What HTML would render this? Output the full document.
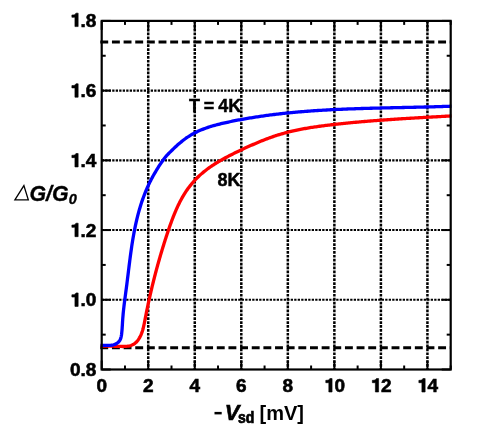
<!DOCTYPE html>
<html><head><meta charset="utf-8"><style>
html,body{margin:0;padding:0;background:#fff;}
svg{display:block;filter:blur(0.4px);}
text{font-family:"Liberation Sans",sans-serif;fill:#000;}
.tl{font-size:19px;font-weight:bold;stroke:#000;stroke-width:0.6px;}
.yl{font-size:21.3px;font-weight:bold;stroke:#000;stroke-width:0.35px;}
.an{font-size:18px;font-weight:bold;stroke:#000;stroke-width:0.45px;}
.xv{font-size:22px;font-weight:bold;font-style:italic;stroke:#000;stroke-width:0.6px;}
.xsd{font-size:14px;font-weight:bold;stroke:#000;stroke-width:0.65px;}
.xmv{font-size:20px;font-weight:bold;}
.hid{fill:none;stroke:none;}
.one{fill:#000;stroke:#000;stroke-width:0.0316;stroke-linejoin:miter;}
.bi{font-style:italic;font-weight:bold;}
.delta{font-weight:normal;font-style:italic;}
.sub{font-size:14.5px;font-style:italic;font-weight:bold;}
.sd{font-size:12px;font-weight:bold;}
.grid{stroke:#000;stroke-width:2.5;stroke-dasharray:2.7 1.2;fill:none;}
.gridh{stroke:#000;stroke-width:2.1;stroke-dasharray:2.3 1.2;fill:none;}
.dash{stroke:#000;stroke-width:3;stroke-dasharray:7.9 3.75;fill:none;}
.tick{stroke:#000;stroke-width:2;}
.frame{stroke:#000;stroke-width:2.2;fill:none;}
.blue{stroke:#0000ff;stroke-width:3.3;fill:none;stroke-linejoin:round;}
.red{stroke:#ff0000;stroke-width:3.3;fill:none;stroke-linejoin:round;}
</style></head><body>
<svg width="478" height="442" viewBox="0 0 478 442">
<line x1="148.23" y1="20.90" x2="148.23" y2="369.50" class="grid"/>
<line x1="194.77" y1="20.90" x2="194.77" y2="369.50" class="grid"/>
<line x1="241.30" y1="20.90" x2="241.30" y2="369.50" class="grid"/>
<line x1="287.83" y1="20.90" x2="287.83" y2="369.50" class="grid"/>
<line x1="334.37" y1="20.90" x2="334.37" y2="369.50" class="grid"/>
<line x1="380.90" y1="20.90" x2="380.90" y2="369.50" class="grid"/>
<line x1="427.43" y1="20.90" x2="427.43" y2="369.50" class="grid"/>
<line x1="101.70" y1="299.78" x2="450.70" y2="299.78" class="gridh"/>
<line x1="101.70" y1="230.06" x2="450.70" y2="230.06" class="gridh"/>
<line x1="101.70" y1="160.34" x2="450.70" y2="160.34" class="gridh"/>
<line x1="101.70" y1="90.62" x2="450.70" y2="90.62" class="gridh"/>
<line x1="100.3" y1="42.00" x2="450.70" y2="42.00" class="dash"/>
<line x1="100.3" y1="347.80" x2="450.70" y2="347.80" class="dash"/>
<line x1="101.70" y1="369.50" x2="101.70" y2="360.50" class="tick"/>
<line x1="101.70" y1="20.90" x2="101.70" y2="29.90" class="tick"/>
<line x1="124.97" y1="369.50" x2="124.97" y2="365.50" class="tick"/>
<line x1="124.97" y1="20.90" x2="124.97" y2="24.90" class="tick"/>
<line x1="148.23" y1="369.50" x2="148.23" y2="360.50" class="tick"/>
<line x1="148.23" y1="20.90" x2="148.23" y2="29.90" class="tick"/>
<line x1="171.50" y1="369.50" x2="171.50" y2="365.50" class="tick"/>
<line x1="171.50" y1="20.90" x2="171.50" y2="24.90" class="tick"/>
<line x1="194.77" y1="369.50" x2="194.77" y2="360.50" class="tick"/>
<line x1="194.77" y1="20.90" x2="194.77" y2="29.90" class="tick"/>
<line x1="218.03" y1="369.50" x2="218.03" y2="365.50" class="tick"/>
<line x1="218.03" y1="20.90" x2="218.03" y2="24.90" class="tick"/>
<line x1="241.30" y1="369.50" x2="241.30" y2="360.50" class="tick"/>
<line x1="241.30" y1="20.90" x2="241.30" y2="29.90" class="tick"/>
<line x1="264.57" y1="369.50" x2="264.57" y2="365.50" class="tick"/>
<line x1="264.57" y1="20.90" x2="264.57" y2="24.90" class="tick"/>
<line x1="287.83" y1="369.50" x2="287.83" y2="360.50" class="tick"/>
<line x1="287.83" y1="20.90" x2="287.83" y2="29.90" class="tick"/>
<line x1="311.10" y1="369.50" x2="311.10" y2="365.50" class="tick"/>
<line x1="311.10" y1="20.90" x2="311.10" y2="24.90" class="tick"/>
<line x1="334.37" y1="369.50" x2="334.37" y2="360.50" class="tick"/>
<line x1="334.37" y1="20.90" x2="334.37" y2="29.90" class="tick"/>
<line x1="357.63" y1="369.50" x2="357.63" y2="365.50" class="tick"/>
<line x1="357.63" y1="20.90" x2="357.63" y2="24.90" class="tick"/>
<line x1="380.90" y1="369.50" x2="380.90" y2="360.50" class="tick"/>
<line x1="380.90" y1="20.90" x2="380.90" y2="29.90" class="tick"/>
<line x1="404.17" y1="369.50" x2="404.17" y2="365.50" class="tick"/>
<line x1="404.17" y1="20.90" x2="404.17" y2="24.90" class="tick"/>
<line x1="427.43" y1="369.50" x2="427.43" y2="360.50" class="tick"/>
<line x1="427.43" y1="20.90" x2="427.43" y2="29.90" class="tick"/>
<line x1="450.70" y1="369.50" x2="450.70" y2="365.50" class="tick"/>
<line x1="450.70" y1="20.90" x2="450.70" y2="24.90" class="tick"/>
<line x1="101.70" y1="369.50" x2="110.70" y2="369.50" class="tick"/>
<line x1="450.70" y1="369.50" x2="441.70" y2="369.50" class="tick"/>
<line x1="101.70" y1="334.64" x2="105.70" y2="334.64" class="tick"/>
<line x1="450.70" y1="334.64" x2="446.70" y2="334.64" class="tick"/>
<line x1="101.70" y1="299.78" x2="110.70" y2="299.78" class="tick"/>
<line x1="450.70" y1="299.78" x2="441.70" y2="299.78" class="tick"/>
<line x1="101.70" y1="264.92" x2="105.70" y2="264.92" class="tick"/>
<line x1="450.70" y1="264.92" x2="446.70" y2="264.92" class="tick"/>
<line x1="101.70" y1="230.06" x2="110.70" y2="230.06" class="tick"/>
<line x1="450.70" y1="230.06" x2="441.70" y2="230.06" class="tick"/>
<line x1="101.70" y1="195.20" x2="105.70" y2="195.20" class="tick"/>
<line x1="450.70" y1="195.20" x2="446.70" y2="195.20" class="tick"/>
<line x1="101.70" y1="160.34" x2="110.70" y2="160.34" class="tick"/>
<line x1="450.70" y1="160.34" x2="441.70" y2="160.34" class="tick"/>
<line x1="101.70" y1="125.48" x2="105.70" y2="125.48" class="tick"/>
<line x1="450.70" y1="125.48" x2="446.70" y2="125.48" class="tick"/>
<line x1="101.70" y1="90.62" x2="110.70" y2="90.62" class="tick"/>
<line x1="450.70" y1="90.62" x2="441.70" y2="90.62" class="tick"/>
<line x1="101.70" y1="55.76" x2="105.70" y2="55.76" class="tick"/>
<line x1="450.70" y1="55.76" x2="446.70" y2="55.76" class="tick"/>
<line x1="101.70" y1="20.90" x2="110.70" y2="20.90" class="tick"/>
<line x1="450.70" y1="20.90" x2="441.70" y2="20.90" class="tick"/>
<path d="M100.53,346.30 L101.74,346.20 L102.94,346.13 L104.14,346.07 L105.34,346.04 L106.54,346.03 L107.74,346.03 L108.94,346.05 L110.14,346.07 L111.34,346.11 L112.55,346.15 L113.76,346.20 L114.98,346.25 L116.20,346.31 L117.43,346.35 L118.67,346.40 L119.92,346.44 L121.18,346.47 L122.44,346.48 L123.70,346.47 L124.96,346.43 L126.20,346.35 L127.42,346.22 L128.62,346.04 L129.79,345.79 L130.92,345.47 L132.01,345.07 L133.06,344.59 L134.05,344.01 L134.98,343.33 L135.86,342.57 L136.69,341.74 L137.46,340.85 L138.17,339.90 L138.84,338.92 L139.46,337.91 L140.03,336.87 L140.56,335.81 L141.05,334.73 L141.50,333.62 L141.91,332.50 L142.30,331.36 L142.66,330.20 L142.99,329.03 L143.29,327.84 L143.58,326.65 L143.85,325.45 L144.11,324.24 L144.36,323.02 L144.60,321.80 L144.84,320.58 L145.07,319.36 L145.31,318.15 L145.54,316.93 L145.78,315.72 L146.02,314.51 L146.26,313.30 L146.50,312.09 L146.75,310.89 L146.99,309.69 L147.24,308.49 L147.49,307.29 L147.74,306.09 L148.00,304.90 L148.25,303.70 L148.51,302.51 L148.76,301.32 L149.02,300.13 L149.29,298.95 L149.55,297.76 L149.81,296.58 L150.08,295.40 L150.35,294.21 L150.62,293.04 L150.89,291.86 L151.17,290.68 L151.44,289.51 L151.72,288.33 L152.00,287.16 L152.28,285.99 L152.57,284.82 L152.85,283.65 L153.14,282.48 L153.43,281.31 L153.72,280.14 L154.02,278.98 L154.31,277.81 L154.61,276.65 L154.91,275.49 L155.21,274.32 L155.52,273.16 L155.82,272.00 L156.13,270.84 L156.44,269.68 L156.76,268.52 L157.07,267.36 L157.39,266.20 L157.71,265.05 L158.03,263.89 L158.35,262.73 L158.68,261.57 L159.01,260.42 L159.34,259.26 L159.67,258.10 L160.00,256.95 L160.34,255.79 L160.68,254.64 L161.02,253.48 L161.37,252.32 L161.71,251.17 L162.06,250.01 L162.41,248.86 L162.77,247.70 L163.12,246.54 L163.48,245.39 L163.84,244.23 L164.21,243.07 L164.57,241.91 L164.94,240.76 L165.31,239.60 L165.69,238.44 L166.06,237.28 L166.44,236.12 L166.82,234.96 L167.21,233.79 L167.59,232.63 L167.98,231.47 L168.38,230.31 L168.77,229.14 L169.17,227.98 L169.57,226.82 L169.98,225.66 L170.39,224.50 L170.81,223.35 L171.23,222.19 L171.65,221.04 L172.08,219.89 L172.52,218.74 L172.96,217.60 L173.40,216.46 L173.86,215.32 L174.31,214.19 L174.78,213.06 L175.25,211.94 L175.73,210.82 L176.21,209.71 L176.70,208.60 L177.20,207.50 L177.71,206.40 L178.22,205.31 L178.74,204.23 L179.27,203.16 L179.81,202.09 L180.36,201.03 L180.92,199.98 L181.48,198.94 L182.06,197.90 L182.64,196.87 L183.23,195.86 L183.84,194.85 L184.45,193.85 L185.08,192.86 L185.71,191.89 L186.36,190.92 L187.01,189.97 L187.68,189.02 L188.36,188.09 L189.05,187.17 L189.75,186.26 L190.46,185.36 L191.18,184.47 L191.90,183.60 L192.63,182.74 L193.37,181.89 L194.11,181.05 L194.87,180.22 L195.64,179.39 L196.42,178.58 L197.22,177.78 L198.03,176.98 L198.85,176.19 L199.69,175.41 L200.54,174.64 L201.41,173.88 L202.28,173.13 L203.17,172.38 L204.06,171.65 L204.97,170.92 L205.89,170.20 L206.82,169.50 L207.75,168.80 L208.70,168.10 L209.66,167.42 L210.62,166.75 L211.59,166.08 L212.58,165.42 L213.57,164.77 L214.56,164.13 L215.57,163.49 L216.58,162.86 L217.60,162.24 L218.62,161.63 L219.65,161.02 L220.69,160.41 L221.74,159.82 L222.79,159.23 L223.84,158.64 L224.90,158.06 L225.96,157.49 L227.03,156.92 L228.10,156.36 L229.18,155.80 L230.26,155.24 L231.35,154.69 L232.43,154.15 L233.52,153.61 L234.62,153.07 L235.71,152.54 L236.81,152.00 L237.91,151.48 L239.01,150.95 L240.11,150.43 L241.21,149.91 L242.32,149.40 L243.42,148.88 L244.52,148.37 L245.63,147.86 L246.73,147.35 L247.84,146.85 L248.95,146.35 L250.06,145.85 L251.16,145.36 L252.27,144.87 L253.39,144.38 L254.50,143.90 L255.61,143.42 L256.72,142.94 L257.84,142.47 L258.96,142.00 L260.07,141.54 L261.19,141.09 L262.31,140.64 L263.44,140.19 L264.56,139.75 L265.69,139.31 L266.82,138.88 L267.94,138.46 L269.08,138.04 L270.21,137.63 L271.35,137.23 L272.48,136.83 L273.62,136.43 L274.76,136.05 L275.91,135.67 L277.05,135.30 L278.20,134.94 L279.36,134.58 L280.51,134.23 L281.67,133.89 L282.82,133.56 L283.99,133.23 L285.15,132.92 L286.32,132.61 L287.48,132.30 L288.65,132.01 L289.83,131.72 L291.00,131.43 L292.18,131.15 L293.36,130.88 L294.54,130.62 L295.72,130.36 L296.90,130.11 L298.09,129.86 L299.28,129.62 L300.47,129.39 L301.66,129.16 L302.85,128.93 L304.04,128.71 L305.24,128.50 L306.43,128.29 L307.63,128.08 L308.83,127.88 L310.03,127.68 L311.23,127.49 L312.43,127.30 L313.64,127.12 L314.84,126.94 L316.04,126.76 L317.25,126.59 L318.45,126.42 L319.66,126.26 L320.87,126.09 L322.08,125.93 L323.28,125.78 L324.49,125.62 L325.70,125.47 L326.91,125.32 L328.12,125.18 L329.33,125.03 L330.54,124.89 L331.75,124.75 L332.96,124.61 L334.17,124.47 L335.38,124.34 L336.59,124.20 L337.80,124.07 L339.00,123.94 L340.21,123.81 L341.42,123.68 L342.63,123.55 L343.84,123.43 L345.05,123.30 L346.26,123.18 L347.46,123.06 L348.67,122.94 L349.88,122.82 L351.09,122.71 L352.30,122.59 L353.51,122.48 L354.71,122.36 L355.92,122.25 L357.13,122.14 L358.34,122.03 L359.55,121.92 L360.75,121.82 L361.96,121.71 L363.17,121.60 L364.38,121.50 L365.58,121.40 L366.79,121.30 L368.00,121.20 L369.21,121.10 L370.42,121.00 L371.62,120.90 L372.83,120.81 L374.04,120.71 L375.25,120.62 L376.45,120.52 L377.66,120.43 L378.87,120.34 L380.08,120.25 L381.28,120.16 L382.49,120.07 L383.70,119.98 L384.91,119.90 L386.12,119.81 L387.32,119.73 L388.53,119.64 L389.74,119.56 L390.95,119.48 L392.16,119.39 L393.36,119.31 L394.57,119.23 L395.78,119.15 L396.99,119.07 L398.20,118.99 L399.41,118.92 L400.62,118.84 L401.82,118.76 L403.03,118.69 L404.24,118.61 L405.45,118.54 L406.66,118.46 L407.87,118.39 L409.08,118.32 L410.29,118.24 L411.50,118.17 L412.71,118.10 L413.92,118.03 L415.13,117.96 L416.34,117.89 L417.55,117.82 L418.76,117.75 L419.97,117.68 L421.18,117.61 L422.39,117.54 L423.60,117.47 L424.81,117.40 L426.03,117.33 L427.24,117.27 L428.45,117.20 L429.66,117.13 L430.87,117.07 L432.09,117.00 L433.30,116.93 L434.51,116.87 L435.72,116.80 L436.94,116.73 L438.15,116.67 L439.36,116.60 L440.58,116.54 L441.79,116.47 L443.01,116.40 L444.22,116.34 L445.43,116.27 L446.65,116.21 L447.86,116.14 L449.08,116.08 L450.30,116.01 L451.51,115.94" class="red"/>
<path d="M100.58,345.38 L101.67,345.32 L102.86,345.31 L104.12,345.34 L105.44,345.37 L106.80,345.40 L108.18,345.40 L109.57,345.36 L110.95,345.25 L112.29,345.06 L113.59,344.78 L114.83,344.39 L115.97,343.88 L117.03,343.27 L117.98,342.54 L118.83,341.71 L119.56,340.79 L120.17,339.77 L120.64,338.67 L121.01,337.49 L121.28,336.26 L121.49,334.99 L121.65,333.70 L121.79,332.40 L121.92,331.11 L122.03,329.81 L122.13,328.51 L122.22,327.21 L122.30,325.91 L122.38,324.60 L122.46,323.30 L122.53,322.01 L122.62,320.71 L122.70,319.41 L122.80,318.12 L122.90,316.83 L123.01,315.54 L123.12,314.26 L123.24,312.97 L123.37,311.69 L123.51,310.41 L123.64,309.13 L123.79,307.85 L123.93,306.57 L124.09,305.30 L124.24,304.02 L124.40,302.75 L124.56,301.48 L124.72,300.21 L124.89,298.93 L125.06,297.66 L125.23,296.39 L125.40,295.12 L125.57,293.85 L125.74,292.58 L125.91,291.31 L126.08,290.04 L126.25,288.77 L126.42,287.50 L126.58,286.22 L126.75,284.95 L126.91,283.68 L127.07,282.40 L127.23,281.13 L127.39,279.85 L127.55,278.57 L127.71,277.30 L127.87,276.02 L128.03,274.74 L128.18,273.46 L128.34,272.18 L128.49,270.91 L128.65,269.63 L128.81,268.35 L128.97,267.07 L129.12,265.79 L129.28,264.51 L129.44,263.23 L129.61,261.95 L129.77,260.67 L129.93,259.39 L130.10,258.12 L130.27,256.84 L130.44,255.56 L130.61,254.28 L130.78,253.01 L130.96,251.73 L131.14,250.45 L131.32,249.18 L131.50,247.90 L131.69,246.63 L131.88,245.35 L132.08,244.08 L132.28,242.81 L132.48,241.54 L132.68,240.27 L132.90,239.00 L133.11,237.73 L133.33,236.46 L133.55,235.20 L133.78,233.93 L134.01,232.67 L134.25,231.41 L134.49,230.14 L134.74,228.88 L135.00,227.62 L135.26,226.37 L135.52,225.11 L135.79,223.86 L136.07,222.60 L136.36,221.35 L136.65,220.10 L136.94,218.85 L137.25,217.61 L137.56,216.36 L137.88,215.12 L138.20,213.88 L138.54,212.64 L138.88,211.40 L139.22,210.17 L139.58,208.93 L139.95,207.70 L140.32,206.47 L140.70,205.25 L141.09,204.02 L141.49,202.80 L141.90,201.58 L142.31,200.36 L142.74,199.15 L143.17,197.94 L143.62,196.73 L144.07,195.52 L144.53,194.32 L145.00,193.13 L145.48,191.93 L145.97,190.75 L146.47,189.57 L146.97,188.40 L147.49,187.23 L148.01,186.07 L148.54,184.92 L149.08,183.78 L149.63,182.64 L150.18,181.52 L150.74,180.40 L151.31,179.30 L151.89,178.20 L152.48,177.12 L153.07,176.04 L153.67,174.97 L154.28,173.91 L154.90,172.85 L155.53,171.79 L156.16,170.73 L156.80,169.67 L157.45,168.61 L158.11,167.55 L158.78,166.48 L159.46,165.42 L160.15,164.35 L160.85,163.30 L161.55,162.25 L162.27,161.21 L163.00,160.20 L163.75,159.20 L164.50,158.22 L165.27,157.27 L166.04,156.35 L166.84,155.46 L167.64,154.59 L168.45,153.76 L169.26,152.93 L170.08,152.13 L170.90,151.32 L171.71,150.52 L172.53,149.72 L173.35,148.91 L174.19,148.10 L175.03,147.28 L175.90,146.47 L176.79,145.66 L177.71,144.85 L178.64,144.05 L179.59,143.24 L180.57,142.44 L181.56,141.63 L182.57,140.83 L183.59,140.03 L184.63,139.25 L185.68,138.47 L186.74,137.72 L187.81,136.99 L188.90,136.28 L189.99,135.59 L191.10,134.93 L192.21,134.29 L193.33,133.66 L194.46,133.06 L195.60,132.48 L196.75,131.91 L197.90,131.36 L199.06,130.84 L200.23,130.32 L201.41,129.83 L202.59,129.35 L203.78,128.89 L204.98,128.44 L206.18,128.00 L207.39,127.59 L208.60,127.18 L209.82,126.78 L211.05,126.40 L212.27,126.03 L213.51,125.67 L214.74,125.33 L215.98,124.99 L217.22,124.66 L218.47,124.34 L219.72,124.03 L220.97,123.72 L222.22,123.42 L223.48,123.13 L224.74,122.85 L226.00,122.57 L227.26,122.30 L228.52,122.03 L229.78,121.76 L231.04,121.50 L232.30,121.24 L233.57,120.98 L234.83,120.73 L236.09,120.48 L237.36,120.24 L238.62,119.99 L239.89,119.76 L241.15,119.52 L242.42,119.29 L243.68,119.06 L244.95,118.84 L246.22,118.61 L247.49,118.40 L248.75,118.18 L250.02,117.97 L251.29,117.76 L252.56,117.55 L253.83,117.35 L255.10,117.15 L256.37,116.95 L257.64,116.76 L258.91,116.57 L260.18,116.38 L261.46,116.19 L262.73,116.01 L264.00,115.83 L265.27,115.65 L266.55,115.48 L267.82,115.31 L269.09,115.14 L270.37,114.97 L271.64,114.81 L272.92,114.65 L274.19,114.49 L275.47,114.34 L276.75,114.19 L278.02,114.04 L279.30,113.89 L280.58,113.74 L281.85,113.60 L283.13,113.46 L284.41,113.33 L285.69,113.19 L286.96,113.06 L288.24,112.93 L289.52,112.80 L290.80,112.67 L292.08,112.55 L293.36,112.43 L294.64,112.31 L295.92,112.19 L297.20,112.08 L298.48,111.97 L299.76,111.86 L301.04,111.75 L302.32,111.64 L303.61,111.54 L304.89,111.44 L306.17,111.34 L307.45,111.24 L308.74,111.14 L310.02,111.05 L311.30,110.95 L312.58,110.86 L313.87,110.77 L315.15,110.69 L316.44,110.60 L317.72,110.52 L319.00,110.44 L320.29,110.36 L321.57,110.28 L322.86,110.20 L324.14,110.13 L325.43,110.05 L326.71,109.98 L328.00,109.91 L329.28,109.84 L330.57,109.77 L331.85,109.71 L333.14,109.64 L334.43,109.58 L335.71,109.52 L337.00,109.46 L338.28,109.40 L339.57,109.34 L340.86,109.28 L342.14,109.23 L343.43,109.17 L344.72,109.12 L346.00,109.07 L347.29,109.02 L348.58,108.97 L349.87,108.92 L351.15,108.87 L352.44,108.82 L353.73,108.78 L355.02,108.73 L356.30,108.69 L357.59,108.65 L358.88,108.60 L360.17,108.56 L361.45,108.52 L362.74,108.48 L364.03,108.45 L365.32,108.41 L366.61,108.37 L367.89,108.33 L369.18,108.30 L370.47,108.26 L371.76,108.23 L373.05,108.19 L374.33,108.16 L375.62,108.13 L376.91,108.10 L378.20,108.06 L379.49,108.03 L380.77,108.00 L382.06,107.97 L383.35,107.94 L384.64,107.91 L385.93,107.88 L387.21,107.85 L388.50,107.82 L389.79,107.80 L391.08,107.77 L392.36,107.74 L393.65,107.71 L394.94,107.68 L396.23,107.65 L397.51,107.63 L398.80,107.60 L400.09,107.57 L401.38,107.54 L402.66,107.52 L403.95,107.49 L405.24,107.46 L406.52,107.43 L407.81,107.41 L409.10,107.38 L410.38,107.35 L411.67,107.32 L412.96,107.29 L414.24,107.26 L415.53,107.23 L416.81,107.20 L418.10,107.17 L419.39,107.14 L420.67,107.11 L421.96,107.08 L423.24,107.05 L424.53,107.02 L425.81,106.99 L427.10,106.95 L428.38,106.92 L429.66,106.89 L430.95,106.85 L432.23,106.81 L433.52,106.78 L434.80,106.74 L436.08,106.70 L437.37,106.67 L438.65,106.63 L439.93,106.59 L441.22,106.55 L442.50,106.51 L443.78,106.46 L445.06,106.42 L446.34,106.38 L447.62,106.33 L448.91,106.29 L450.19,106.24 L451.47,106.19" class="blue"/>
<rect x="101.70" y="20.90" width="349.00" height="348.60" class="frame"/>
<text x="96.42" y="392.00" class="tl">0</text>
<text x="142.95" y="392.00" class="tl">2</text>
<text x="189.48" y="392.00" class="tl">4</text>
<text x="236.02" y="392.00" class="tl">6</text>
<text x="282.55" y="392.00" class="tl">8</text>
<text x="323.80" y="392.00" class="tl"><tspan class="hid">1</tspan>0</text><path d="M0.265,0 L0.435,0 L0.435,0.708 L0.32,0.708 C0.30,0.64 0.225,0.615 0.105,0.612 L0.105,0.49 L0.265,0.49 Z" transform="translate(323.80,392.00) scale(19.0,-19.0)" class="one"/>
<text x="370.34" y="392.00" class="tl"><tspan class="hid">1</tspan>2</text><path d="M0.265,0 L0.435,0 L0.435,0.708 L0.32,0.708 C0.30,0.64 0.225,0.615 0.105,0.612 L0.105,0.49 L0.265,0.49 Z" transform="translate(370.34,392.00) scale(19.0,-19.0)" class="one"/>
<text x="416.87" y="392.00" class="tl"><tspan class="hid">1</tspan>4</text><path d="M0.265,0 L0.435,0 L0.435,0.708 L0.32,0.708 C0.30,0.64 0.225,0.615 0.105,0.612 L0.105,0.49 L0.265,0.49 Z" transform="translate(416.87,392.00) scale(19.0,-19.0)" class="one"/>
<text x="69.89" y="376.10" class="tl">0.8</text>
<text x="69.89" y="306.38" class="tl"><tspan class="hid">1</tspan>.0</text><path d="M0.265,0 L0.435,0 L0.435,0.708 L0.32,0.708 C0.30,0.64 0.225,0.615 0.105,0.612 L0.105,0.49 L0.265,0.49 Z" transform="translate(69.89,306.38) scale(19.0,-19.0)" class="one"/>
<text x="69.89" y="236.66" class="tl"><tspan class="hid">1</tspan>.2</text><path d="M0.265,0 L0.435,0 L0.435,0.708 L0.32,0.708 C0.30,0.64 0.225,0.615 0.105,0.612 L0.105,0.49 L0.265,0.49 Z" transform="translate(69.89,236.66) scale(19.0,-19.0)" class="one"/>
<text x="69.89" y="166.94" class="tl"><tspan class="hid">1</tspan>.4</text><path d="M0.265,0 L0.435,0 L0.435,0.708 L0.32,0.708 C0.30,0.64 0.225,0.615 0.105,0.612 L0.105,0.49 L0.265,0.49 Z" transform="translate(69.89,166.94) scale(19.0,-19.0)" class="one"/>
<text x="69.89" y="97.22" class="tl"><tspan class="hid">1</tspan>.6</text><path d="M0.265,0 L0.435,0 L0.435,0.708 L0.32,0.708 C0.30,0.64 0.225,0.615 0.105,0.612 L0.105,0.49 L0.265,0.49 Z" transform="translate(69.89,97.22) scale(19.0,-19.0)" class="one"/>
<text x="69.89" y="26.60" class="tl"><tspan class="hid">1</tspan>.8</text><path d="M0.265,0 L0.435,0 L0.435,0.708 L0.32,0.708 C0.30,0.64 0.225,0.615 0.105,0.612 L0.105,0.49 L0.265,0.49 Z" transform="translate(69.89,26.60) scale(19.0,-19.0)" class="one"/>
<text transform="translate(189.10,111.50) scale(1,1.05)" class="an" text-anchor="start">T</text>
<text transform="translate(203.80,112.20) scale(1,1.05)" class="an" text-anchor="start">=</text>
<text transform="translate(218.20,111.60) scale(1,1.05)" class="an" text-anchor="start">4K</text>
<text transform="translate(217.60,185.60) scale(1,1.05)" class="an" text-anchor="start">8K</text>
<polygon points="14.9,199.8 23.9,185.6 28.3,199.8" fill="none" stroke="#000" stroke-width="1.3" stroke-linejoin="miter"/>
<text transform="translate(29.50,200.80) scale(1,1.0)" class="yl" text-anchor="start"><tspan class="bi">G/G</tspan><tspan class="sub" dx="0.3" dy="3.6">0</tspan></text>
<rect x="214.5" y="411.9" width="7.2" height="2.5" fill="#000"/>
<text transform="translate(224.80,419.60) scale(1,1.0)" class="xv" text-anchor="start">V</text>
<text transform="translate(237.90,423.00) scale(1,1.15)" class="xsd" text-anchor="start">sd</text>
<text transform="translate(259.50,420.20) scale(1,1.04)" class="xmv" text-anchor="start">[mV]</text>
</svg>
</body></html>
